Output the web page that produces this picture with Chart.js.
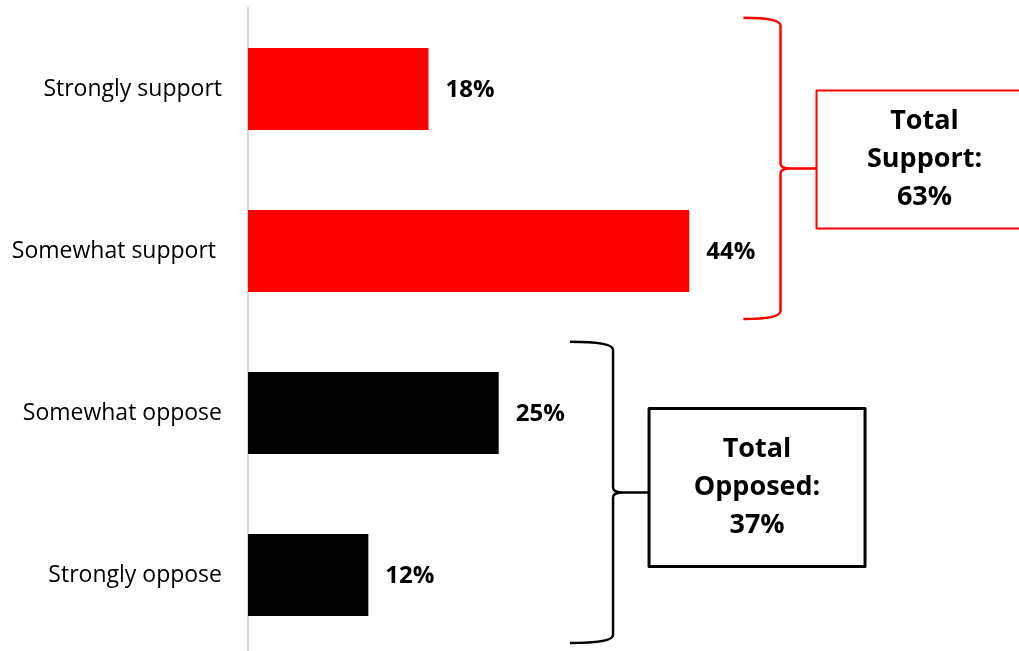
<!DOCTYPE html>
<html>
<head>
<meta charset="utf-8">
<script src="https://cdn.jsdelivr.net/npm/chart.js@4/dist/chart.umd.min.js"></script>
<style>
  html, body { margin: 0; padding: 0; background: #fff; overflow: hidden; }
  #wrap { width: 1019px; height: 660px; }
</style>
</head>
<body>
<div id="wrap"><canvas id="supportChart" width="1019" height="660"></canvas></div>
<script>
// answer categories, top to bottom
const categories = ['Strongly support', 'Somewhat support ', 'Somewhat oppose', 'Strongly oppose'];
const shares = [18, 44, 25, 12];
const barColors = ['#ff0000', '#ff0000', '#000000', '#000000'];

// the two summary groups (bracket + box)
const groupMembers = [[0, 1], [2, 3]];
const groupTitles = [['Total', 'Support:'], ['Total', 'Opposed:']];
const groupTotals = [63, 37];
const groupColors = ['#ff0000', '#000000'];

const FONT = "'Open Sans', sans-serif";

// bracket / box layout per group, x in axis units
const braceLayout = [
  { start: 49.4, spine: 53.1, boxTop: -78, boxH: 138, lineW: 2.5, boxLineW: 2 },
  { start: 32.1, spine: 36.4, boxTop: -84, boxH: 158, lineW: 2.5, boxLineW: 3 }
];

const annotations = {
  id: 'annotations',
  afterDatasetsDraw(chart) {
    const ctx = chart.ctx;
    const xs = chart.scales.x;
    const ys = chart.scales.y;
    const bars = chart.getDatasetMeta(0).data;

    // value labels
    ctx.save();
    ctx.font = 'bold 24px ' + FONT;
    ctx.fillStyle = '#000';
    ctx.textBaseline = 'middle';
    ctx.textAlign = 'left';
    bars.forEach((bar, i) => {
      ctx.fillText(shares[i] + '%', bar.x + 17, bar.y + 1);
    });
    ctx.restore();

    const step = ys.getPixelForValue(1) - ys.getPixelForValue(0);

    groupMembers.forEach((members, g) => {
      const lay = braceLayout[g];
      const yTop = ys.getPixelForValue(members[0]) - 0.44 * step;
      const yBot = ys.getPixelForValue(members[members.length - 1]) + 0.42 * step;
      const yMid = (yTop + yBot) / 2;
      const x0 = xs.getPixelForValue(lay.start);
      const xv = xs.getPixelForValue(lay.spine);
      const boxX = xv + 36;
      const boxW = 216;

      // curly brace
      ctx.save();
      ctx.strokeStyle = groupColors[g];
      ctx.lineWidth = lay.lineW;
      ctx.lineJoin = 'round';
      ctx.beginPath();
      ctx.moveTo(x0, yTop);
      ctx.quadraticCurveTo(xv, yTop, xv, yTop + 8);
      ctx.lineTo(xv, yMid - 5);
      ctx.quadraticCurveTo(xv, yMid, xv + 10, yMid);
      ctx.lineTo(boxX, yMid);
      ctx.moveTo(xv + 10, yMid);
      ctx.quadraticCurveTo(xv, yMid, xv, yMid + 5);
      ctx.lineTo(xv, yBot - 8);
      ctx.quadraticCurveTo(xv, yBot, x0, yBot);
      ctx.stroke();

      // summary box
      const by = yMid + lay.boxTop;
      ctx.fillStyle = '#fff';
      ctx.fillRect(boxX, by, boxW, lay.boxH);
      ctx.lineWidth = lay.boxLineW;
      ctx.strokeRect(boxX, by, boxW, lay.boxH);

      const lines = groupTitles[g].concat([groupTotals[g] + '%']);
      ctx.fillStyle = '#000';
      ctx.font = 'bold 27px ' + FONT;
      ctx.textAlign = 'center';
      ctx.textBaseline = 'middle';
      const cx = boxX + boxW / 2;
      const cy = by + lay.boxH / 2;
      lines.forEach((t, i) => {
        ctx.fillText(t, cx, cy + (i - 1) * 38);
      });
      ctx.restore();
    });
  }
};

new Chart(document.getElementById('supportChart'), {
  type: 'bar',
  data: {
    labels: categories,
    datasets: [{
      data: shares,
      backgroundColor: barColors,
      borderWidth: 0,
      categoryPercentage: 1,
      barPercentage: 0.505
    }]
  },
  options: {
    indexAxis: 'y',
    responsive: false,
    animation: false,
    devicePixelRatio: 1,
    layout: { padding: { left: 0, right: 69, top: 8, bottom: 4 } },
    plugins: {
      legend: { display: false },
      tooltip: { enabled: false }
    },
    scales: {
      x: {
        display: false,
        min: 0,
        max: 70
      },
      y: {
        grid: { display: false, drawTicks: false, tickLength: 0 },
        border: { color: '#d9d9d9', width: 2 },
        ticks: {
          color: '#000',
          padding: 26,
          font: { family: FONT, size: 23 }
        },
        afterFit(scale) {
          scale.width = 248;
          scale.paddingTop = 0;
          scale.paddingBottom = 0;
        }
      }
    }
  },
  plugins: [annotations]
});
</script>
</body>
</html>
